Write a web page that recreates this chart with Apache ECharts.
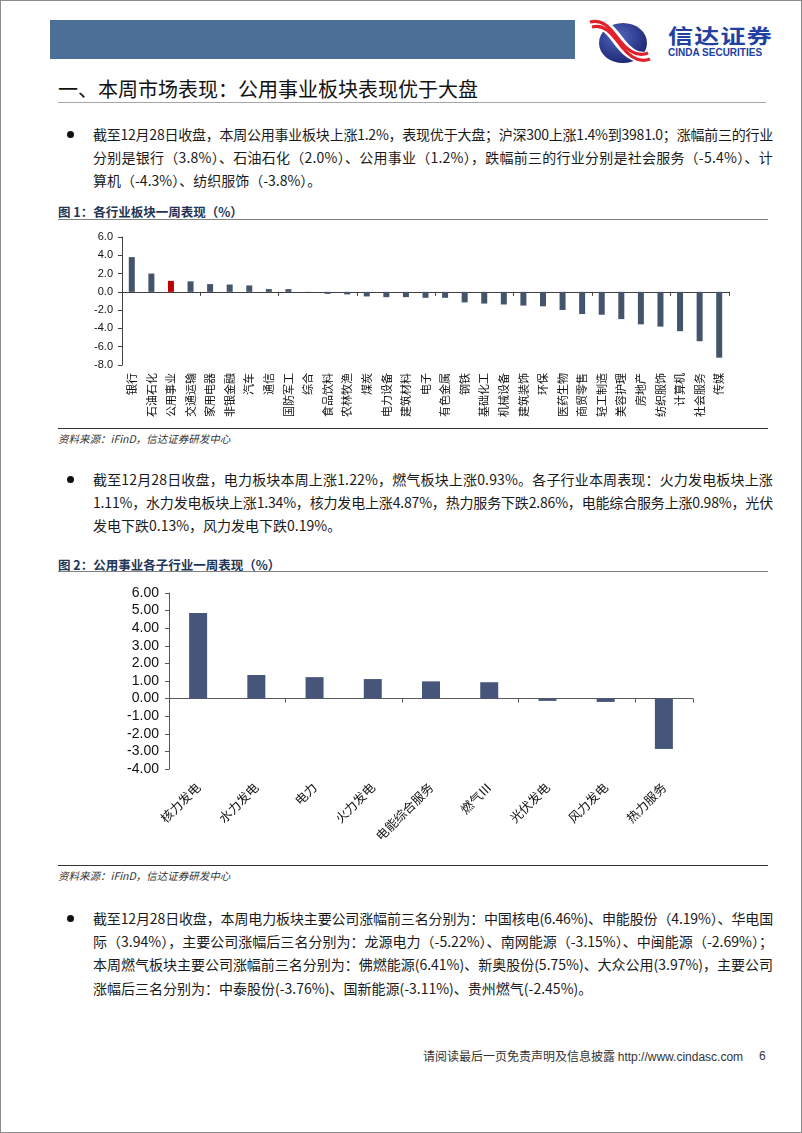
<!DOCTYPE html>
<html>
<head>
<meta charset="utf-8">
<script src="https://cdn.jsdelivr.net/npm/echarts@6/dist/echarts.min.js"></script>
<style>
html,body{margin:0;padding:0;background:#fff;}
#page{position:relative;width:802px;height:1133px;overflow:hidden;font-family:"Noto Sans CJK SC",sans-serif;color:#1a1a1a;box-sizing:border-box;border:1px solid #8c8c8c;}
.abs{position:absolute;}
.ln{position:absolute;left:92px;font-size:14px;line-height:23.4px;height:23.4px;white-space:nowrap;}
.bullet{position:absolute;left:66px;width:7px;height:7px;border-radius:50%;background:#111;}
.figt{position:absolute;left:57px;font-size:12.5px;font-weight:bold;color:#1f3556;white-space:nowrap;}
.hline{position:absolute;left:57px;width:710px;height:1px;}
.src{position:absolute;left:57px;font-size:10.5px;font-style:italic;color:#333;white-space:nowrap;font-family:"Noto Sans CJK SC",serif;}
</style>
</head>
<body>
<div id="page">
  <div class="abs" style="left:49px;top:19px;width:525px;height:39px;background:#4b6f97;"></div>
  <svg class="abs" style="left:588px;top:17px;" width="64" height="48" viewBox="0 0 64 48">
    <defs>
      <radialGradient id="g1" cx="40%" cy="35%" r="75%">
        <stop offset="0%" stop-color="#5165c0"/>
        <stop offset="100%" stop-color="#16206a"/>
      </radialGradient>
    </defs>
    <ellipse cx="34" cy="25" rx="24" ry="20" fill="url(#g1)"/>
    <path d="M2,6 C16,2 24,16 32,26 C40,36 50,42 60,38" stroke="#fff" stroke-width="11" fill="none"/>
    <path d="M1,4 C15,0 23,13 31,23 C39,33 49,39 59,35" stroke="#e0202a" stroke-width="3.2" fill="none"/>
    <path d="M3,9 C17,5 25,19 33,29 C41,39 51,45 61,41" stroke="#e0202a" stroke-width="3.2" fill="none"/>
  </svg>
  <div class="abs" style="left:667px;top:22px;font-size:20px;font-weight:bold;color:#2140a0;letter-spacing:1px;transform:scale(1.25,1);transform-origin:left top;white-space:nowrap;line-height:26px;">信达证券</div>
  <div class="abs" style="left:667px;top:46px;font-size:10px;font-weight:bold;color:#2140a0;font-family:'Liberation Sans',Arial,sans-serif;white-space:nowrap;line-height:11px;">CINDA SECURITIES</div>

  <div class="abs" style="left:57px;top:75px;font-size:20px;line-height:26px;color:#111;white-space:nowrap;">一、本周市场表现：公用事业板块表现优于大盘</div>
  <div class="abs" style="left:57px;top:101px;width:708px;height:1px;background:#a6a6a6;"></div>

  <div id="para1"></div>
  <div class="figt" style="top:201px;">图 1：各行业板块一周表现（%）</div>
  <div class="hline" style="top:218px;background:#808080;"></div>
  <div id="chart1" class="abs" style="left:0;top:222px;width:802px;height:200px;"></div>
  <div class="hline" style="top:427px;background:#333;"></div>
  <div class="src" style="top:430px;">资料来源：iFinD，信达证券研发中心</div>

  <div id="para2"></div>
  <div class="figt" style="top:554px;">图 2：公用事业各子行业一周表现（%）</div>
  <div class="hline" style="top:570px;background:#808080;"></div>
  <div id="chart2" class="abs" style="left:0;top:575px;width:802px;height:285px;"></div>
  <div class="hline" style="top:864px;background:#333;"></div>
  <div class="src" style="top:867px;">资料来源：iFinD，信达证券研发中心</div>

  <div id="para3"></div>

  <div class="abs" style="left:422px;top:1047px;font-size:12px;line-height:16px;color:#333;white-space:nowrap;">请阅读最后一页免责声明及信息披露 <span style="font-family:'Liberation Sans',Arial,sans-serif;">http://www.cindasc.com</span></div>
  <div class="abs" style="left:758px;top:1047px;font-size:12px;line-height:16px;color:#333;font-family:'Liberation Sans',Arial,sans-serif;">6</div>
</div>
<script>
// ---------- data ----------
const industryCategories = ['银行','石油石化','公用事业','交通运输','家用电器','非银金融','汽车','通信','国防军工','综合','食品饮料','农林牧渔','煤炭','电力设备','建筑材料','电子','有色金属','钢铁','基础化工','机械设备','建筑装饰','环保','医药生物','商贸零售','轻工制造','美容护理','房地产','纺织服饰','计算机','社会服务','传媒'];
const industryValues = [3.8,2.0,1.2,1.15,0.85,0.8,0.7,0.3,0.3,-0.02,-0.22,-0.28,-0.5,-0.58,-0.58,-0.65,-0.65,-1.15,-1.28,-1.38,-1.5,-1.58,-1.98,-2.42,-2.5,-2.98,-3.55,-3.8,-4.3,-5.4,-7.2];
const highlightIndustry = '公用事业';
const industryTicks = [-8,-6,-4,-2,0,2,4,6];

const subCategories = ['核力发电','水力发电','电力','火力发电','电能综合服务','燃气Ⅲ','光伏发电','风力发电','热力服务'];
const subValues = [4.87,1.34,1.22,1.11,0.98,0.93,-0.13,-0.19,-2.86];
const subTicks = [-4,-3,-2,-1,0,1,2,3,4,5,6];

const para1Lines = [
 '截至12月28日收盘，本周公用事业板块上涨1.2%，表现优于大盘；沪深300上涨1.4%到3981.0；涨幅前三的行业',
 '分别是银行（3.8%）、石油石化（2.0%）、公用事业（1.2%），跌幅前三的行业分别是社会服务（-5.4%）、计',
 '算机（-4.3%）、纺织服饰（-3.8%）。'];
const para2Lines = [
 '截至12月28日收盘，电力板块本周上涨1.22%，燃气板块上涨0.93%。各子行业本周表现：火力发电板块上涨',
 '1.11%，水力发电板块上涨1.34%，核力发电上涨4.87%，热力服务下跌2.86%，电能综合服务上涨0.98%，光伏',
 '发电下跌0.13%，风力发电下跌0.19%。'];
const para3Lines = [
 '截至12月28日收盘，本周电力板块主要公司涨幅前三名分别为：中国核电(6.46%)、申能股份（4.19%）、华电国',
 '际（3.94%），主要公司涨幅后三名分别为：龙源电力（-5.22%）、南网能源（-3.15%）、中闽能源（-2.69%）；',
 '本周燃气板块主要公司涨幅前三名分别为：佛燃能源(6.41%)、新奥股份(5.75%)、大众公用(3.97%)，主要公司',
 '涨幅后三名分别为：中泰股份(-3.76%)、国新能源(-3.11%)、贵州燃气(-2.45%)。'];

// ---------- paragraphs ----------
const LINE_W = 680, LH = 23.4;
function drawPara(id, lines, top){
  const host = document.getElementById(id);
  const b = document.createElement('div');
  b.className='bullet'; b.style.top=(top+LH/2-3.5)+'px';
  host.appendChild(b);
  lines.forEach((t,i)=>{
    const d=document.createElement('div');
    d.className='ln'; d.textContent=t; d.style.top=(top+i*LH)+'px';
    host.appendChild(d);
    if(i<lines.length-1){
      const w=d.getBoundingClientRect().width;
      const n=[...t].length;
      d.style.letterSpacing=((LINE_W-w)/n)+'px';
    }
  });
}
drawPara('para1', para1Lines, 121.5);
drawPara('para2', para2Lines, 466.5);
drawPara('para3', para3Lines, 905.5);

// ---------- chart 1 ----------
const axisColor = '#404040';
const c1 = echarts.init(document.getElementById('chart1'), null, {renderer:'canvas'});
c1.setOption({
  animation:false,
  grid:{left:121, top:14, width:607, height:128, containLabel:false, outerBoundsMode:'none'},
  xAxis:[
    {type:'category', data:industryCategories, axisLine:{onZero:true, lineStyle:{color:axisColor,width:1}},
     axisTick:{show:true,length:4,lineStyle:{color:axisColor}}, axisLabel:{show:false}, splitLine:{show:false}},
    {type:'category', data:industryCategories, position:'bottom', axisLine:{show:false,onZero:false},
     axisTick:{show:false}, splitLine:{show:false},
     axisLabel:{show:true, interval:0, rotate:90, margin:8, fontSize:11, color:'#111', fontFamily:'Noto Sans CJK SC'}}
  ],
  yAxis:{type:'value', min:industryTicks[0], max:industryTicks[industryTicks.length-1], interval:2,
    axisLine:{show:true,lineStyle:{color:axisColor}}, axisTick:{show:true,length:4,lineStyle:{color:axisColor}},
    splitLine:{show:false},
    axisLabel:{formatter:v=>v.toFixed(1), fontSize:11, color:'#111', margin:9, fontFamily:'Liberation Sans, Arial'}},
  series:[{type:'bar', xAxisIndex:0, barWidth:6,
    data:industryValues.map((v,i)=>({value:v, itemStyle:{color: industryCategories[i]===highlightIndustry ? '#c00000' : '#44546a'}}))}]
});

// ---------- chart 2 ----------
const c2 = echarts.init(document.getElementById('chart2'), null, {renderer:'canvas'});
c2.setOption({
  animation:false,
  grid:{left:168, top:17, width:524, height:176, containLabel:false, outerBoundsMode:'none'},
  xAxis:[
    {type:'category', data:subCategories, axisLine:{onZero:true, lineStyle:{color:'#595959',width:1}},
     axisTick:{show:true,length:4,lineStyle:{color:'#595959'}}, axisLabel:{show:false}, splitLine:{show:false}},
    {type:'category', data:subCategories, position:'bottom', axisLine:{show:false,onZero:false},
     axisTick:{show:false}, splitLine:{show:false},
     axisLabel:{show:true, interval:0, rotate:45, margin:16, fontSize:12.5, color:'#111', fontFamily:'Noto Sans CJK SC'}}
  ],
  yAxis:{type:'value', min:subTicks[0], max:subTicks[subTicks.length-1], interval:1,
    axisLine:{show:true,lineStyle:{color:'#595959'}}, axisTick:{show:true,length:4,lineStyle:{color:'#595959'}},
    splitLine:{show:false},
    axisLabel:{formatter:v=>v.toFixed(2), fontSize:14, color:'#111', margin:10, fontFamily:'Liberation Sans, Arial'}},
  series:[{type:'bar', xAxisIndex:0, barWidth:18, itemStyle:{color:'#46557a'}, data:subValues}]
});
</script>
</body>
</html>
